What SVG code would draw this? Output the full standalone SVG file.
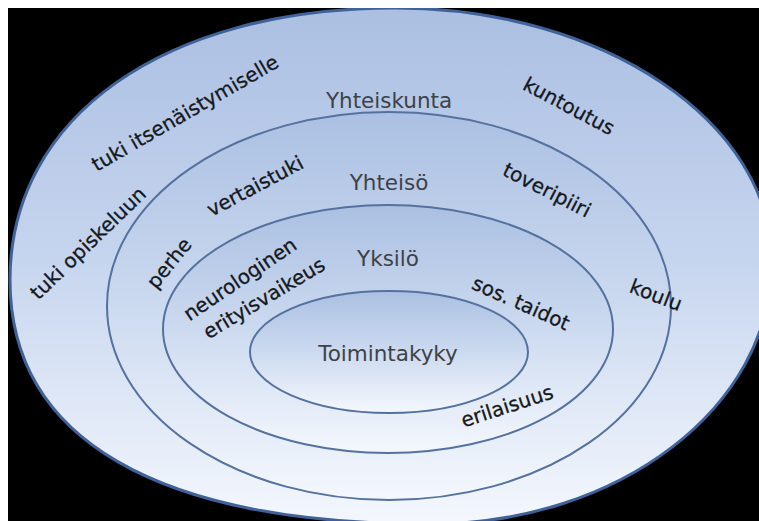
<svg xmlns="http://www.w3.org/2000/svg" width="759" height="521" viewBox="0 0 759 521">
  <defs>
    <linearGradient id="g1" x1="0" y1="0" x2="0" y2="1">
      <stop offset="0" stop-color="#abbfe2"/>
      <stop offset="0.5" stop-color="#c7d6ef"/>
      <stop offset="1" stop-color="#f4f7fd"/>
    </linearGradient>
    <linearGradient id="g2" x1="0" y1="0" x2="0" y2="1">
      <stop offset="0" stop-color="#abc0e2"/>
      <stop offset="0.5" stop-color="#ccdaf0"/>
      <stop offset="1" stop-color="#f4f7fd"/>
    </linearGradient>
    <clipPath id="frame">
      <rect x="8" y="8" width="751" height="513"/>
    </clipPath>
  </defs>
  <style>
    .ring { fill: url(#g2); stroke: #55719f; stroke-width: 2; }
    .outer { fill: url(#g1); stroke: #3f6299; stroke-width: 3; }
    .title { font-family: "DejaVu Sans", Verdana, sans-serif; font-size: 21.5px; fill: #3e4246; text-anchor: middle; dominant-baseline: central; }
    .lbl { font-family: "DejaVu Sans", Verdana, sans-serif; font-size: 20px; fill: #16181c; stroke: #16181c; stroke-width: 0.3; text-anchor: middle; dominant-baseline: central; }
  </style>
  <rect x="0" y="0" width="759" height="521" fill="#ffffff"/>
  <rect x="8" y="8" width="751" height="513" fill="#000000"/>
  <g clip-path="url(#frame)">
    <g id="yhteiskunta">
      <path class="outer" d="M10,280 C10,117 164,8 395,8 C603,8 772,122 772,262 C772,407 619,524 430,524 C157,524 10,439 10,280 Z"/>
      <text class="title" x="389" y="100">Yhteiskunta</text>
    </g>
    <g id="yhteiso">
      <ellipse class="ring" cx="389" cy="306" rx="282" ry="194"/>
      <text class="title" x="389" y="182">Yhteisö</text>
    </g>
    <g id="yksilo">
      <ellipse class="ring" cx="388" cy="329" rx="225" ry="124"/>
      <text class="title" x="388" y="258">Yksilö</text>
    </g>
    <g id="toimintakyky">
      <ellipse class="ring" cx="389" cy="352" rx="139" ry="61"/>
      <text class="title" x="388" y="353">Toimintakyky</text>
    </g>
    <g id="yhteiskunta-labels">
      <text class="lbl" transform="translate(185,113) rotate(-30)">tuki itsenäistymiselle</text>
      <text class="lbl" transform="translate(569,106) rotate(28)">kuntoutus</text>
      <text class="lbl" transform="translate(88,243) rotate(-44)">tuki opiskeluun</text>
      <text class="lbl" transform="translate(656,295) rotate(21)">koulu</text>
    </g>
    <g id="yhteiso-labels">
      <text class="lbl" transform="translate(255,186) rotate(-28)">vertaistuki</text>
      <text class="lbl" transform="translate(547,190) rotate(27)">toveripiiri</text>
      <text class="lbl" transform="translate(169,263) rotate(-51)">perhe</text>
    </g>
    <g id="yksilo-labels">
      <text class="lbl" transform="translate(240,279) rotate(-34)">neurologinen</text>
      <text class="lbl" transform="translate(264,298) rotate(-31)">erityisvaikeus</text>
      <text class="lbl" transform="translate(521,303) rotate(24)">sos. taidot</text>
      <text class="lbl" transform="translate(507,406) rotate(-18)">erilaisuus</text>
    </g>
  </g>
</svg>
